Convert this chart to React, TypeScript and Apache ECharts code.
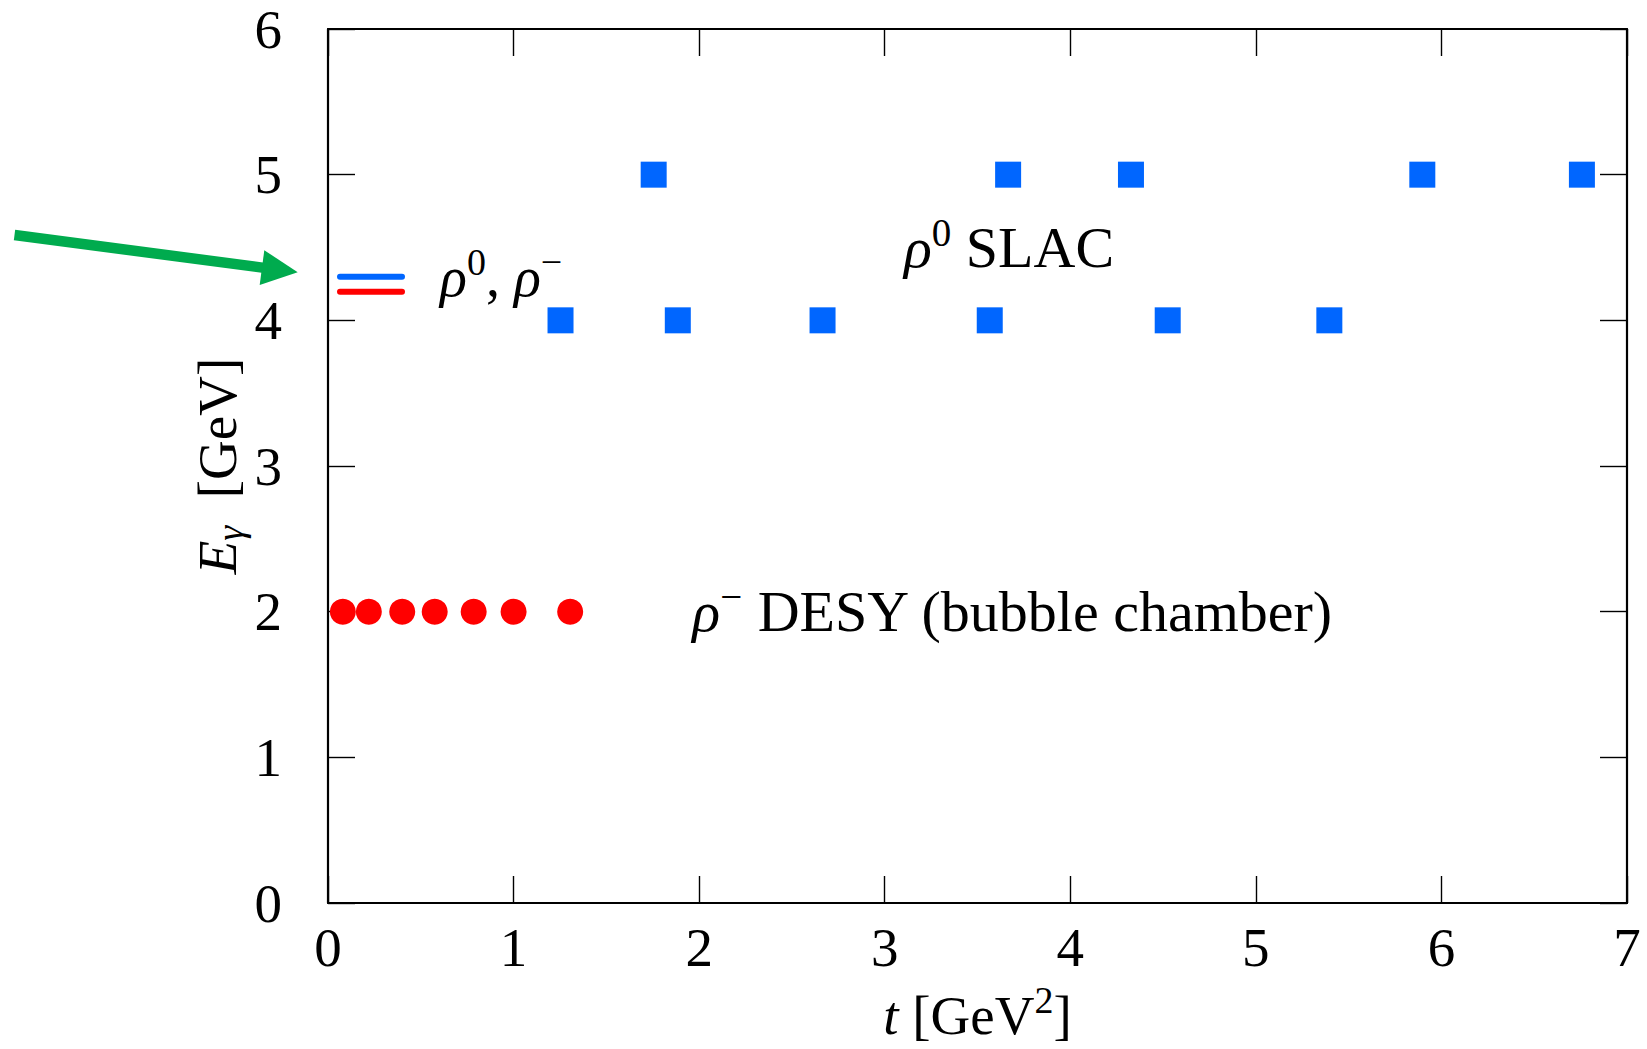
import React, { useEffect, useRef } from 'react';
import * as echarts from 'echarts';

// ---- data ----
const desyT = [0.08, 0.22, 0.40, 0.575, 0.785, 1.0, 1.305];
const desyE = [2, 2, 2, 2, 2, 2, 2];

const slacT = [1.253, 1.755, 1.885, 2.665, 3.566, 3.665, 4.327, 4.525, 5.396, 5.897, 6.757];
const slacE = [4, 5, 4, 4, 4, 5, 5, 4, 4, 5, 5];

const xMin = 0, xMax = 7, xStep = 1;
const yMin = 0, yMax = 6, yStep = 1;

const annotationT = [3.67, 3.69];
const annotationE = [4.5, 2.0];
const annotationText = [
  '{i|ρ}{sup|0}{r| SLAC}',
  '{i|ρ}{sup|−}{r| DESY (bubble chamber)}',
];

const xAxisTitle = '{i|t}{r| [GeV}{sup|2}{r|]}';
const yAxisTitle = '{i|E}{sub|γ}{r|  [GeV]}';
const legendTitle = '{i|ρ}{sup|0}{r|, }{i|ρ}{sup|−}';

const FONT = "'Liberation Serif', 'Times New Roman', serif";
const BLUE = '#0066ff';
const RED = '#ff0000';
const GREEN = '#00ab4e';

const makeRich = (size: number, supSize: number) => ({
  r: { fontFamily: FONT, fontSize: size, color: '#000', lineHeight: 64, height: 64 },
  i: { fontFamily: FONT, fontSize: size, color: '#000', fontStyle: 'italic', lineHeight: 64, height: 64 },
  sup: { fontFamily: FONT, fontSize: supSize, color: '#000', height: 34, lineHeight: 34, verticalAlign: 'top' },
  sub: { fontFamily: FONT, fontSize: supSize, color: '#000', fontStyle: 'italic', height: 38, lineHeight: 38, verticalAlign: 'bottom' },
});
const rich: any = makeRich(55, 38);
const annoRich: any = makeRich(58, 39);

const zrRich: any = {
  r: { fontFamily: FONT, fontSize: 56, fill: '#000', lineHeight: 64, height: 64 },
  i: { fontFamily: FONT, fontSize: 56, fill: '#000', fontStyle: 'italic', lineHeight: 64, height: 64 },
  sup: { fontFamily: FONT, fontSize: 38, fill: '#000', height: 34, lineHeight: 34, verticalAlign: 'top' },
};

const tickLabel = { fontFamily: FONT, fontSize: 55, color: '#000', lineHeight: 55 };
const axisLineStyle = { lineStyle: { color: '#000', width: 2.2 } };
const tickStyle = { show: true, inside: true, length: 27, lineStyle: { color: '#000', width: 1.4 } };

function buildOption() {
  return {
    animation: false,
    backgroundColor: '#fff',
    grid: { left: 328, top: 29, right: 20, bottom: 146, containLabel: false, outerBoundsMode: 'none' },
    xAxis: [
      {
        type: 'value', min: xMin, max: xMax, interval: xStep, position: 'bottom',
        axisLine: { show: true, onZero: false, ...axisLineStyle },
        axisTick: tickStyle,
        splitLine: { show: false },
        axisLabel: { ...tickLabel, margin: 17, showMinLabel: true, showMaxLabel: true },
        name: xAxisTitle, nameLocation: 'middle', nameGap: 80, nameMoveOverlap: false,
        nameTextStyle: { rich },
      },
      {
        type: 'value', min: xMin, max: xMax, interval: xStep, position: 'top',
        axisLine: { show: true, onZero: false, ...axisLineStyle },
        axisTick: tickStyle,
        splitLine: { show: false },
        axisLabel: { show: false },
      },
    ],
    yAxis: [
      {
        type: 'value', min: yMin, max: yMax, interval: yStep, position: 'left',
        axisLine: { show: true, onZero: false, ...axisLineStyle },
        axisTick: tickStyle,
        splitLine: { show: false },
        axisLabel: { ...tickLabel, margin: 46, showMinLabel: true, showMaxLabel: true },
        name: yAxisTitle, nameLocation: 'middle', nameGap: 79, nameRotate: 90, nameMoveOverlap: false,
        nameTextStyle: { rich },
      },
      {
        type: 'value', min: yMin, max: yMax, interval: yStep, position: 'right',
        axisLine: { show: true, onZero: false, ...axisLineStyle },
        axisTick: tickStyle,
        splitLine: { show: false },
        axisLabel: { show: false },
      },
    ],
    series: [
      {
        name: 'ρ- DESY', type: 'scatter', symbol: 'circle', symbolSize: 26,
        itemStyle: { color: RED, opacity: 1 },
        data: desyT.map((t, i) => [t, desyE[i]]),
        z: 3,
      },
      {
        name: 'ρ0 SLAC', type: 'scatter', symbol: 'rect', symbolSize: 26,
        itemStyle: { color: BLUE, opacity: 1 },
        data: slacT.map((t, i) => [t, slacE[i]]),
        z: 3,
      },
      {
        name: 'labels', type: 'scatter', symbolSize: 0, silent: true,
        itemStyle: { opacity: 1 },
        data: annotationT.map((t, i) => [t, annotationE[i]]),
        label: {
          show: true, position: 'inside', align: 'center', verticalAlign: 'middle',
          color: '#000', opacity: 1,
          formatter: (p: any) => annotationText[p.dataIndex],
          rich: annoRich,
        },
        z: 4,
      },
    ],
    graphic: [
      {
        type: 'line', z: 10,
        shape: { x1: 14.5, y1: 235, x2: 266, y2: 268.1 },
        style: { stroke: GREEN, lineWidth: 10.5, lineCap: 'butt' },
      },
      {
        type: 'polygon', z: 10,
        shape: { points: [[297.7, 272.3], [264.3, 250.2], [259.7, 285]] },
        style: { fill: GREEN },
      },
      {
        type: 'line', z: 10,
        shape: { x1: 340, y1: 276.7, x2: 402, y2: 276.7 },
        style: { stroke: BLUE, lineWidth: 6, lineCap: 'round' },
      },
      {
        type: 'line', z: 10,
        shape: { x1: 340, y1: 291.7, x2: 402, y2: 291.7 },
        style: { stroke: RED, lineWidth: 6, lineCap: 'round' },
      },
      {
        type: 'text', z: 10, x: 440, y: 277,
        style: {
          text: legendTitle, rich: zrRich, align: 'left', verticalAlign: 'middle',
          fontFamily: FONT, fontSize: 56, fill: '#000',
        },
      },
    ],
  };
}

export default function App() {
  const ref = useRef<HTMLDivElement>(null);
  useEffect(() => {
    const chart = echarts.init(ref.current!, null, { renderer: 'svg' });
    chart.setOption(buildOption() as any);
    return () => chart.dispose();
  }, []);
  return (
    <div
      ref={ref}
      style={{ position: 'fixed', left: 0, top: 0, width: 1647, height: 1049, background: '#fff' }}
    />
  );
}
